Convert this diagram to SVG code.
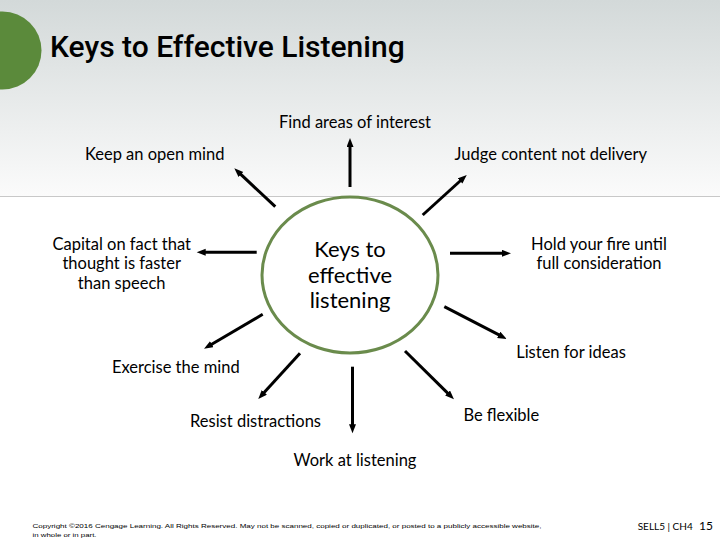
<svg xmlns="http://www.w3.org/2000/svg" width="720" height="540" viewBox="0 0 720 540">
<defs>
<linearGradient id="bg" x1="0" y1="0" x2="0" y2="1">
<stop offset="0" stop-color="#d3d9d9"/>
<stop offset="1" stop-color="#fbfbfb"/>
</linearGradient>
<marker id="ah" markerUnits="userSpaceOnUse" markerWidth="10" markerHeight="8" refX="3" refY="3.5" orient="auto">
<path d="M0,0 L9,3.5 L0,7 z" fill="#000"/>
</marker>
</defs>
<style>
.lbl{font-family:Lato,"Open Sans","Liberation Sans",sans-serif;font-size:16.5px;fill:#000;text-anchor:middle}
.ctr{font-family:Lato,"Open Sans","Liberation Sans",sans-serif;font-size:22px;fill:#000;text-anchor:middle}
.con{stroke:#000;stroke-width:3;fill:none;marker-end:url(#ah)}
</style>
<rect x="0" y="0" width="720" height="197" fill="url(#bg)"/>
<rect x="0" y="197" width="720" height="343" fill="#fff"/>
<line x1="0" y1="196.5" x2="720" y2="196.5" stroke="#c8c8c8" stroke-width="1"/>
<circle cx="2.5" cy="50.5" r="39" fill="#5b8a3b"/>
<text x="50" y="57" font-family="Roboto,'Liberation Sans',sans-serif" font-size="30" font-weight="500" fill="#000">Keys to Effective Listening</text>

<g id="connectors">
<path class="con" d="M350,187 L350,144"/>
<path class="con" d="M275.3,206.7 L238.7,172.4"/>
<path class="con" d="M256.7,252.3 L202.7,252.3"/>
<path class="con" d="M422.7,215 L462.3,179"/>
<path class="con" d="M450,253.3 L505,253.3"/>
<path class="con" d="M444.3,306.7 L501.4,336.2"/>
<path class="con" d="M405,351 L449.7,395.1"/>
<path class="con" d="M352.5,366.7 L352.5,427.3"/>
<path class="con" d="M300,353.3 L262.3,394.6"/>
<path class="con" d="M262.7,314.3 L209.2,345.7"/>
</g>

<g id="center">
<ellipse cx="350" cy="275" rx="88" ry="78" fill="#fff" stroke="#6a8b4c" stroke-width="3"/>
<text class="ctr" x="350" y="257">Keys to</text>
<text class="ctr" x="350" y="283">effective</text>
<text class="ctr" x="350" y="308">listening</text>
</g>
<g id="n-find"><text class="lbl" x="355" y="127.5">Find areas of interest</text></g>
<g id="n-open"><text class="lbl" x="154.7" y="160">Keep an open mind</text></g>
<g id="n-judge"><text class="lbl" x="550.8" y="160">Judge content not delivery</text></g>
<g id="n-capital"><text class="lbl" x="121.7" y="249.5">Capital on fact that</text><text class="lbl" x="121.7" y="268.5">thought is faster</text><text class="lbl" x="121.7" y="288.5">than speech</text></g>
<g id="n-hold"><text class="lbl" x="599" y="249.5">Hold your fire until</text><text class="lbl" x="599" y="268.5">full consideration</text></g>
<g id="n-ideas"><text class="lbl" x="571" y="357.5">Listen for ideas</text></g>
<g id="n-flexible"><text class="lbl" x="501.3" y="420.5">Be flexible</text></g>
<g id="n-work"><text class="lbl" x="355" y="466">Work at listening</text></g>
<g id="n-resist"><text class="lbl" x="255.5" y="426.5">Resist distractions</text></g>
<g id="n-exercise"><text class="lbl" x="175.8" y="372.5">Exercise the mind</text></g>

<g id="footer" font-family="'Liberation Sans',sans-serif" fill="#000">
<text x="32.5" y="528" font-size="6" textLength="509" lengthAdjust="spacingAndGlyphs">Copyright ©2016 Cengage Learning. All Rights Reserved. May not be scanned, copied or duplicated, or posted to a publicly accessible website,</text>
<text x="32.5" y="536.5" font-size="6" textLength="64" lengthAdjust="spacingAndGlyphs">in whole or in part.</text>
<text x="637.7" y="530" font-size="10" font-family="Lato,sans-serif">SELL5 | CH4</text>
<text x="699" y="530" font-size="12" font-family="Lato,sans-serif">15</text>
</g>
</svg>
